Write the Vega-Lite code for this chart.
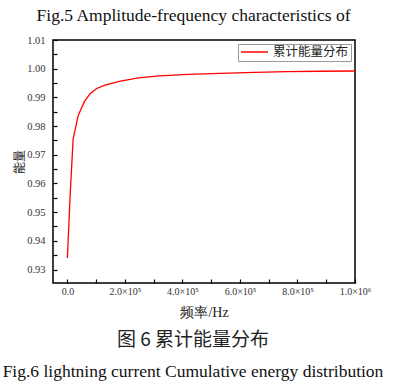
{
  "$schema": "https://vega.github.io/schema/vega-lite/v6.json",
  "width": 302,
  "height": 243,
  "autosize": {"type": "none"},
  "padding": {"left": 53, "top": 40, "right": 40, "bottom": 109},
  "background": "white",
  "view": {"stroke": "black", "strokeWidth": 1.5},
  "title": {
    "text": "图 6 累计能量分布",
    "subtitle": "Fig.6 lightning current Cumulative energy distribution",
    "orient": "bottom",
    "anchor": "middle",
    "dx": -11,
    "offset": 12,
    "font": "Noto Sans CJK SC",
    "fontSize": 19,
    "fontWeight": "normal",
    "color": "#222",
    "subtitleFont": "Liberation Serif",
    "subtitleFontSize": 17.5,
    "subtitleColor": "#111",
    "subtitlePadding": 13
  },
  "data": {
    "values": [
      {"freq": 0, "energy": 0.934, "series": "累计能量分布"},
      {"freq": 9400, "energy": 0.9555, "series": "累计能量分布"},
      {"freq": 20000, "energy": 0.9755, "series": "累计能量分布"},
      {"freq": 38000, "energy": 0.9838, "series": "累计能量分布"},
      {"freq": 59000, "energy": 0.9885, "series": "累计能量分布"},
      {"freq": 79000, "energy": 0.9913, "series": "累计能量分布"},
      {"freq": 102000, "energy": 0.9931, "series": "累计能量分布"},
      {"freq": 131000, "energy": 0.9943, "series": "累计能量分布"},
      {"freq": 184000, "energy": 0.9957, "series": "累计能量分布"},
      {"freq": 247000, "energy": 0.9968, "series": "累计能量分布"},
      {"freq": 320000, "energy": 0.9975, "series": "累计能量分布"},
      {"freq": 420000, "energy": 0.998, "series": "累计能量分布"},
      {"freq": 532000, "energy": 0.9984, "series": "累计能量分布"},
      {"freq": 650000, "energy": 0.9987, "series": "累计能量分布"},
      {"freq": 765000, "energy": 0.999, "series": "累计能量分布"},
      {"freq": 880000, "energy": 0.9991, "series": "累计能量分布"},
      {"freq": 1000000, "energy": 0.9992, "series": "累计能量分布"}
    ]
  },
  "resolve": {"axis": {"x": "independent"}},
  "layer": [
    {
      "mark": {"type": "line", "strokeWidth": 1.3},
      "encoding": {
        "x": {
          "field": "freq",
          "type": "quantitative",
          "scale": {"domain": [-50000, 1000000], "nice": false, "zero": false},
          "axis": {
            "orient": "bottom",
            "title": "频率/Hz",
            "titleFont": "Liberation Serif",
            "titleFontSize": 14,
            "titleFontWeight": "normal",
            "titleColor": "#222",
            "titlePadding": 9,
            "values": [0, 100000, 200000, 300000, 400000, 500000, 600000, 700000, 800000, 900000, 1000000],
            "labelExpr": "datum.value == 0 ? '0.0' : (round(datum.value / 100000) % 2 == 0 ? (datum.value == 1000000 ? '1.0×10⁶' : format(datum.value / 100000, '.1f') + '×10⁵') : '')",
            "labelFont": "Liberation Serif",
            "labelFontSize": 10,
            "labelColor": "#333",
            "labelPadding": 7,
            "labelOverlap": false,
            "labelFlush": false,
            "tickSize": -4,
            "tickColor": "black",
            "tickWidth": 1.2,
            "domain": false,
            "grid": false
          }
        },
        "y": {
          "field": "energy",
          "type": "quantitative",
          "scale": {"domain": [0.9253, 1.01], "nice": false, "zero": false},
          "axis": {
            "title": "能量",
            "titleFont": "Noto Sans CJK SC",
            "titleFontSize": 12,
            "titleFontWeight": "normal",
            "titleColor": "#222",
            "titlePadding": 0,
            "values": [0.93, 0.935, 0.94, 0.945, 0.95, 0.955, 0.96, 0.965, 0.97, 0.975, 0.98, 0.985, 0.99, 0.995, 1.0, 1.005, 1.01],
            "labelExpr": "round(datum.value * 1000) % 10 == 0 ? format(datum.value, '.2f') : ''",
            "labelFont": "Liberation Serif",
            "labelFontSize": 10.5,
            "labelColor": "#333",
            "labelPadding": 12,
            "labelOverlap": false,
            "labelFlush": false,
            "tickSize": -4,
            "tickColor": "black",
            "tickWidth": 1.2,
            "domain": false,
            "grid": false
          }
        },
        "color": {
          "field": "series",
          "type": "nominal",
          "scale": {"domain": ["累计能量分布"], "range": ["#ff0000"]},
          "legend": {
            "orient": "top-right",
            "offset": 4,
            "title": null,
            "strokeColor": "#999",
            "fillColor": "white",
            "padding": 2,
            "clipHeight": 12,
            "symbolType": "M-1,0H1",
            "symbolStrokeWidth": 1.5,
            "symbolSize": 729,
            "symbolFillColor": "transparent",
            "labelOffset": 4,
            "labelFont": "Noto Sans CJK SC",
            "labelFontSize": 12.5,
            "labelColor": "#222"
          }
        }
      }
    },
    {
      "mark": {"type": "rule", "opacity": 0},
      "encoding": {
        "x": {
          "field": "freq",
          "type": "quantitative",
          "axis": {
            "orient": "top",
            "title": "Fig.5 Amplitude-frequency characteristics of",
            "titleFont": "Liberation Serif",
            "titleFontSize": 17.5,
            "titleFontWeight": "normal",
            "titleColor": "#111",
            "titleX": 140,
            "titleY": -25,
            "titleAlign": "center",
            "titleBaseline": "middle",
            "labels": false,
            "ticks": false,
            "domain": false,
            "grid": false
          }
        }
      }
    }
  ]
}
